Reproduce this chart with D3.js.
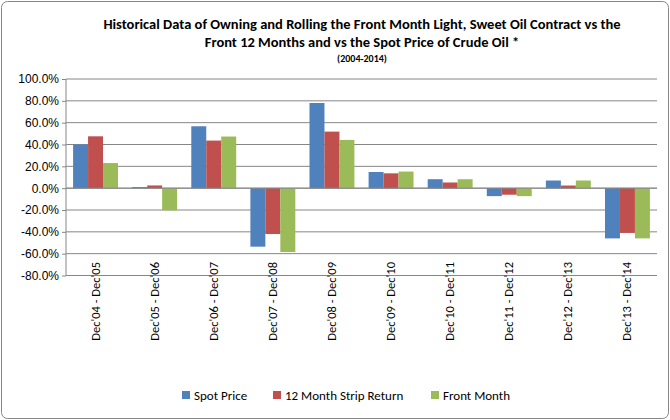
<!DOCTYPE html>
<html><head><meta charset="utf-8">
<script src="https://cdn.jsdelivr.net/npm/d3@7"></script>
<style>body{margin:0;background:#fff;font-family:Calibri,Carlito,"Liberation Sans",Arial,sans-serif;}</style>
</head><body><svg id="c" width="670" height="420"></svg>
<script>
'use strict';
var data = [
  {cat: "Dec'04 - Dec'05", spot: 40, strip: 47.5, front: 23},
  {cat: "Dec'05 - Dec'06", spot: 1, strip: 2.5, front: -20.3},
  {cat: "Dec'06 - Dec'07", spot: 56.7, strip: 43.6, front: 47.3},
  {cat: "Dec'07 - Dec'08", spot: -53.6, strip: -42, front: -58.5},
  {cat: "Dec'08 - Dec'09", spot: 78, strip: 51.8, front: 44.2},
  {cat: "Dec'09 - Dec'10", spot: 14.8, strip: 13.6, front: 15.2},
  {cat: "Dec'10 - Dec'11", spot: 8.2, strip: 5.2, front: 8.2},
  {cat: "Dec'11 - Dec'12", spot: -7.3, strip: -6, front: -7.3},
  {cat: "Dec'12 - Dec'13", spot: 7, strip: 2.4, front: 7},
  {cat: "Dec'13 - Dec'14", spot: -46, strip: -41, front: -46}
];
var series = [
  {key: 'spot', name: 'Spot Price', color: '#4f81bd'},
  {key: 'strip', name: '12 Month Strip Return', color: '#c0504d'},
  {key: 'front', name: 'Front Month', color: '#9bbb59'}
];
var svg = d3.select('#c');
svg.append('rect').attr('x', 1.5).attr('y', 1.5).attr('width', 667).attr('height', 417)
   .attr('rx', 6).attr('fill', '#fff').attr('stroke', '#868686');

var title = svg.append('text').attr('text-anchor', 'middle').attr('font-weight', 'bold').attr('fill', '#000');
title.append('tspan').attr('x', 362).attr('y', 29).attr('font-size', 14.5)
  .text('Historical Data of Owning and Rolling the Front Month Light, Sweet Oil Contract vs the');
title.append('tspan').attr('x', 362).attr('y', 47).attr('font-size', 14.5)
  .text('Front 12 Months  and vs the Spot Price of Crude Oil *');
title.append('tspan').attr('x', 362).attr('y', 62).attr('font-size', 10).text('(2004-2014)');

var x0 = 66, x1 = 657;
var x = d3.scaleBand().domain(data.map(function(d){return d.cat;})).range([x0, x1]).paddingInner(0.24).paddingOuter(0.12);
var xs = d3.scaleBand().domain(series.map(function(s){return s.key;})).range([0, x.bandwidth()]);
var y = d3.scaleLinear().domain([-80, 100]).range([275.5, 79]);

svg.append('g').selectAll('line').data(y.ticks(9)).join('line')
  .attr('x1', x0).attr('x2', x1).attr('y1', function(d){return y(d);}).attr('y2', function(d){return y(d);})
  .attr('stroke', '#868686').attr('stroke-width', 1);
svg.append('line').attr('x1', x0).attr('x2', x0).attr('y1', y(100)).attr('y2', y(-80)).attr('stroke', '#868686');

var yAxis = svg.append('g').attr('transform', 'translate(' + x0 + ',0)')
  .call(d3.axisLeft(y).ticks(9).tickSize(4).tickFormat(function(d){return d.toFixed(1) + '%';}));
yAxis.select('.domain').remove();
yAxis.selectAll('line').attr('stroke', '#868686');
yAxis.selectAll('text').attr('font-size', 12).attr('font-family', 'inherit').attr('fill', '#000');

series.forEach(function(s) {
  svg.append('g').selectAll('rect').data(data).join('rect')
    .attr('x', function(d){return x(d.cat) + xs(s.key);})
    .attr('width', xs.bandwidth())
    .attr('y', function(d){return y(Math.max(0, d[s.key]));})
    .attr('height', function(d){return Math.abs(y(d[s.key]) - y(0));})
    .attr('fill', s.color);
});

svg.append('line').attr('x1', x0).attr('x2', x1).attr('y1', y(0)).attr('y2', y(0)).attr('stroke', '#868686');

svg.append('g').selectAll('text').data(data).join('text')
  .attr('transform', function(d){return 'translate(' + (x(d.cat) + x.bandwidth()/2 + 4) + ',' + 262 + ') rotate(-90)';})
  .attr('text-anchor', 'end').attr('font-size', 12.5).attr('fill', '#000')
  .text(function(d){return d.cat;});

var lg = svg.append('g').selectAll('g').data(series).join('g')
  .attr('transform', function(d, i){return 'translate(' + [182, 273, 431][i] + ',391)';});
lg.append('rect').attr('width', 8).attr('height', 8).attr('fill', function(d){return d.color;});
lg.append('text').attr('x', 12).attr('y', 8.5).attr('font-size', 13).attr('fill', '#000').text(function(d){return d.name;});
</script></body></html>
